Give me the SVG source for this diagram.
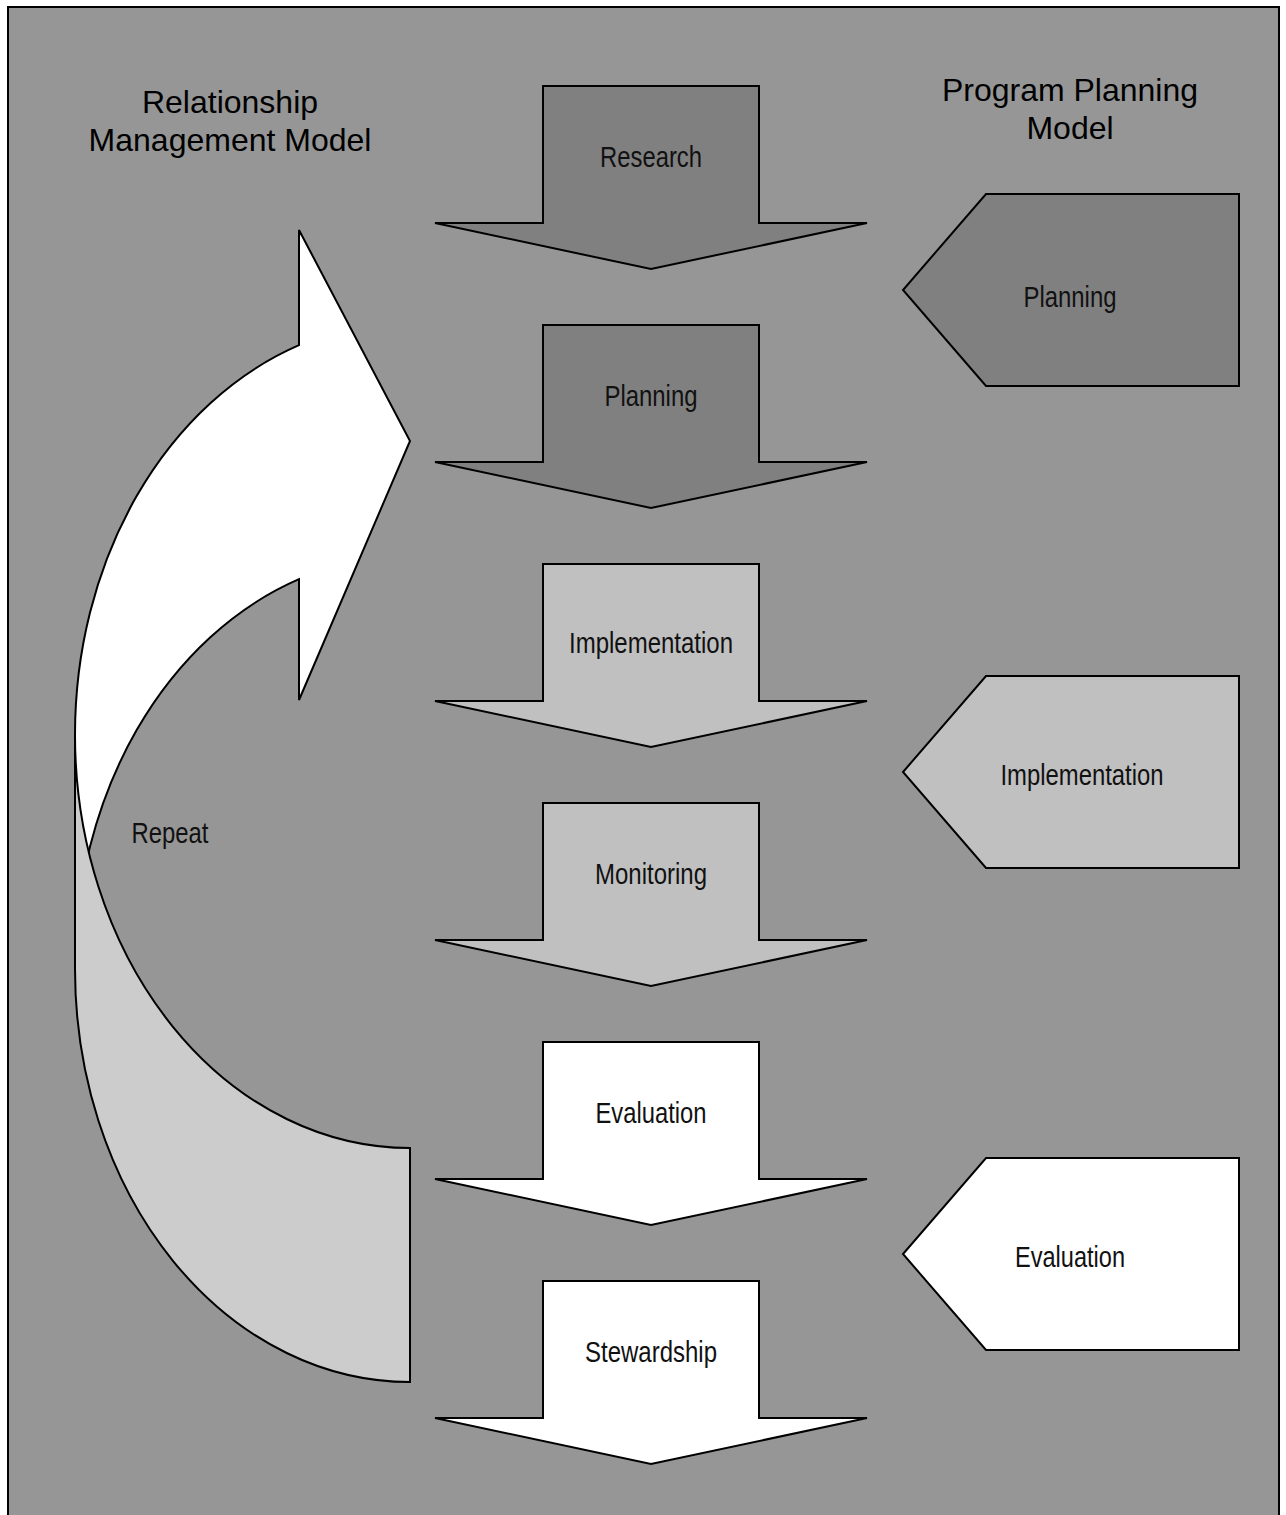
<svg xmlns="http://www.w3.org/2000/svg" width="1286" height="1515" viewBox="0 0 1286 1515">
<style>
.shape{stroke:#000;stroke-width:2;stroke-linejoin:miter}
.dark{fill:#808080}
.light{fill:#c0c0c0}
.white{fill:#ffffff}
.tail{fill:#cccccc}
.lbl{font-family:"Liberation Sans",Arial,sans-serif;font-size:29px;fill:#111;text-anchor:middle}
.title{font-family:"Liberation Sans",Arial,sans-serif;font-size:32px;fill:#000;text-anchor:middle}
</style>
<defs>
<path id="down" d="M543,86 H759 V223 H867 L651,269 L435,223 H543 Z"/>
<path id="pent" d="M986,194 H1239 V386 H986 L903,290 Z"/>
</defs>
<rect x="0" y="0" width="1286" height="1515" fill="#ffffff"/>
<rect id="frame" x="8" y="7" width="1271" height="1520" fill="#969696" stroke="#000" stroke-width="2"/>
<g id="title-left">
<text class="title" x="230" y="113">Relationship</text>
<text class="title" x="230" y="151">Management Model</text>
</g>
<g id="title-right">
<text class="title" x="1070" y="101">Program Planning</text>
<text class="title" x="1070" y="139">Model</text>
</g>
<g id="connectors">
<g id="repeat-arrow">
<path class="shape white" d="M75,969 V735 A335,413 0 0 1 299,345.2 V230 L410,441 L299,700 V579.2 A335,413 0 0 0 75,969 Z"/>
<path class="shape tail" d="M410,1148 A335,413 0 0 1 75,735 V969 A335,413 0 0 0 410,1382 Z"/>
<text class="lbl" x="170" y="843" textLength="77" lengthAdjust="spacingAndGlyphs" font-size="25">Repeat</text>
</g>
</g>
<g id="step-research">
<use href="#down" class="shape dark"/>
<text class="lbl" x="651" y="167" textLength="102" lengthAdjust="spacingAndGlyphs">Research</text>
</g>
<g id="step-planning" transform="translate(0,239)">
<use href="#down" class="shape dark"/>
<text class="lbl" x="651" y="167" textLength="93" lengthAdjust="spacingAndGlyphs">Planning</text>
</g>
<g id="step-implementation" transform="translate(0,478)">
<use href="#down" class="shape light"/>
<text class="lbl" x="651" y="175" textLength="164" lengthAdjust="spacingAndGlyphs">Implementation</text>
</g>
<g id="step-monitoring" transform="translate(0,717)">
<use href="#down" class="shape light"/>
<text class="lbl" x="651" y="167" textLength="112" lengthAdjust="spacingAndGlyphs">Monitoring</text>
</g>
<g id="step-evaluation" transform="translate(0,956)">
<use href="#down" class="shape white"/>
<text class="lbl" x="651" y="167" textLength="111" lengthAdjust="spacingAndGlyphs">Evaluation</text>
</g>
<g id="step-stewardship" transform="translate(0,1195)">
<use href="#down" class="shape white"/>
<text class="lbl" x="651" y="167" textLength="132" lengthAdjust="spacingAndGlyphs">Stewardship</text>
</g>
<g id="ppm-planning">
<use href="#pent" class="shape dark"/>
<text class="lbl" x="1070" y="307" textLength="93" lengthAdjust="spacingAndGlyphs">Planning</text>
</g>
<g id="ppm-implementation" transform="translate(0,482)">
<use href="#pent" class="shape light"/>
<text class="lbl" x="1082" y="303" textLength="163" lengthAdjust="spacingAndGlyphs">Implementation</text>
</g>
<g id="ppm-evaluation" transform="translate(0,964)">
<use href="#pent" class="shape white"/>
<text class="lbl" x="1070" y="303" textLength="110" lengthAdjust="spacingAndGlyphs">Evaluation</text>
</g>
</svg>
